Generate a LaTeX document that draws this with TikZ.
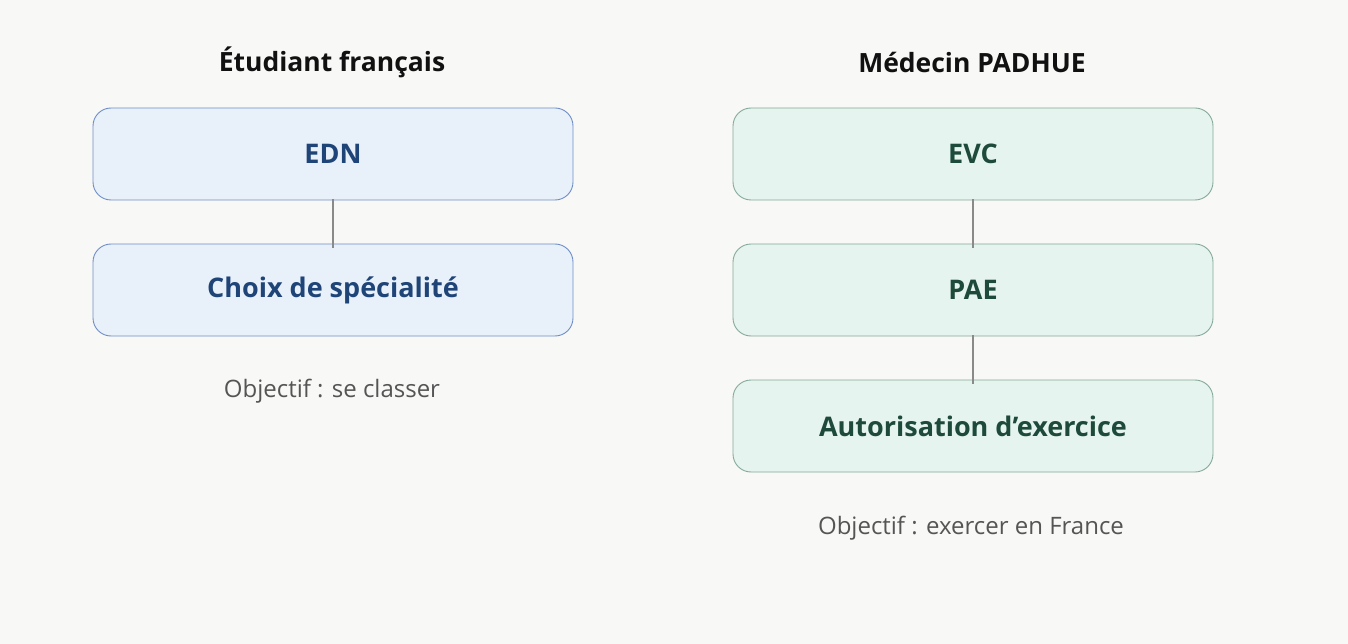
\documentclass[tikz,border=0pt]{standalone}
\usepackage{fontspec}
\setmainfont{Open Sans}
\definecolor{bg}{HTML}{F8F8F6}
\definecolor{bfill}{HTML}{E8F0FA}
\definecolor{bline}{HTML}{6F8FC6}
\definecolor{btext}{HTML}{1F4477}
\definecolor{gfill}{HTML}{E5F4EE}
\definecolor{gline}{HTML}{86AA9B}
\definecolor{gtext}{HTML}{1D4A3A}
\definecolor{conn}{HTML}{8A8A8A}
\definecolor{ttl}{HTML}{111111}
\definecolor{obj}{HTML}{555555}
\begin{document}
\begin{tikzpicture}[x=1pt,y=-1pt,
  box/.style={rounded corners=18pt,minimum width=480pt,minimum height=92pt,inner sep=0pt,line width=0.9pt,font=\fontsize{27}{32}\selectfont\bfseries},
  bluebox/.style={box,draw=bline,fill=bfill,text=btext},
  greenbox/.style={box,draw=gline,fill=gfill,text=gtext},
  ttlnode/.style={font=\fontsize{26.5}{32}\selectfont\bfseries,text=ttl},
  objnode/.style={font=\fontsize{24}{28}\selectfont,text=obj},
  link/.style={draw=conn,line width=2.4pt}]
\fill[bg] (0,0) rectangle (1348,644);
\useasboundingbox (0,0) rectangle (1348,644);
\node[ttlnode] (t1) at (332,62) {Étudiant français};
\node[ttlnode] (t2) at (972,62) {Médecin PADHUE};
\node[bluebox] (edn) at (333,154) {EDN};
\node[bluebox] (choix) at (333,290) {Choix de spécialité};
\node[greenbox] (evc) at (973,154) {EVC};
\node[greenbox] (pae) at (973,290) {PAE};
\node[greenbox] (aut) at (973,426) {Autorisation d’exercice};
\node[objnode] (o1) at (332,391) {Objectif : se classer};
\node[objnode] (o2) at (971,528) {Objectif : exercer en France};
\draw[link] ([yshift=1pt]edn.south) -- ([yshift=-4pt]choix.north);
\draw[link] ([yshift=1pt]evc.south) -- ([yshift=-4pt]pae.north);
\draw[link] ([yshift=1pt]pae.south) -- ([yshift=-4pt]aut.north);
\end{tikzpicture}
\end{document}
